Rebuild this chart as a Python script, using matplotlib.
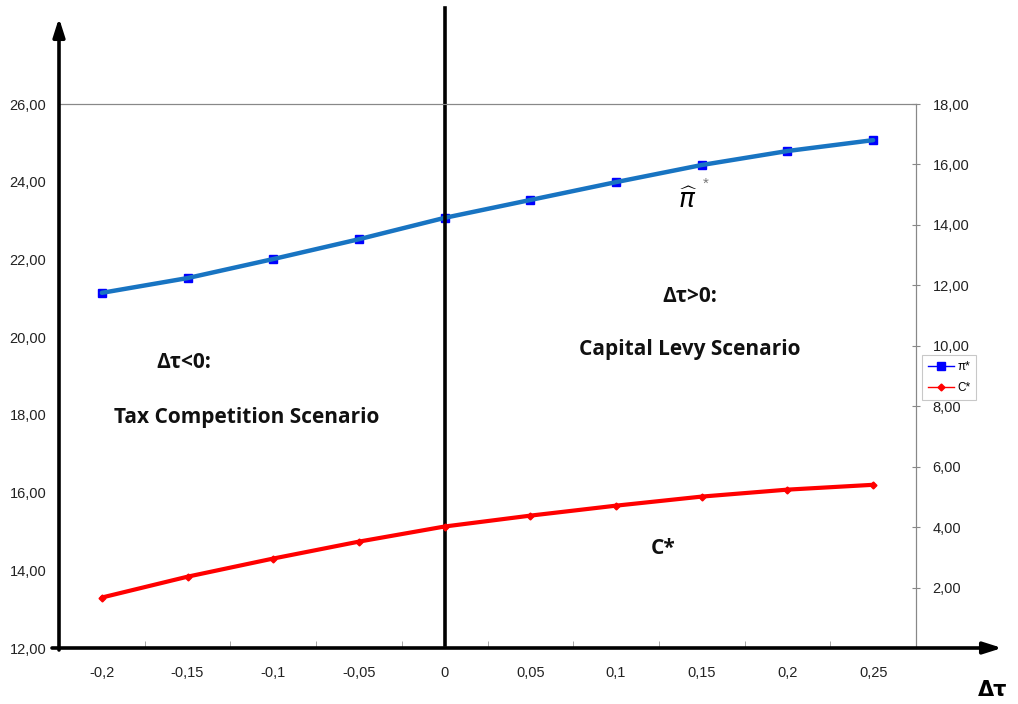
import numpy as np
from matplotlib import pyplot as plt
from matplotlib.ticker import FuncFormatter, FixedLocator

# data
dtau_labels = ["-0,2", "-0,15", "-0,1", "-0,05", "0", "0,05", "0,1", "0,15", "0,2", "0,25"]
pi_star = [21.14, 21.52, 22.01, 22.52, 23.07, 23.53, 23.99, 24.43, 24.79, 25.07]
c_star = [1.67, 2.36, 2.96, 3.52, 4.02, 4.38, 4.71, 5.01, 5.24, 5.40]

W, H = 1018, 704
def fx(px):
    return px / W
def fy(py):
    return 1 - py / H

plt.rcParams['font.family'] = ['Liberation Sans', 'DejaVu Sans']
fig = plt.figure(figsize=(W / 100, H / 100), dpi=100)

L, R, T, B = 59, 916, 104, 648
ax = fig.add_axes([fx(L), fy(B), fx(R - L), (B - T) / H])
ax2 = ax.twinx()

x = np.arange(len(dtau_labels))

# pi* : thin series with square markers, then thick overlay line
ax.plot(x, pi_star, color='#0000ff', lw=1, marker='s', ms=6, zorder=3)
ax.plot(x, pi_star, color='#1874c2', lw=3.2, zorder=4, solid_capstyle='round')
ax2.plot(x, c_star, color='#ff0000', lw=1, marker='D', ms=3.5, zorder=3)
ax2.plot(x, c_star, color='#ff0000', lw=3, zorder=4, solid_capstyle='round')

ax.set_xlim(-0.5, len(dtau_labels) - 0.5)
ax.set_ylim(12, 26)
ax2.set_ylim(0, 18)

comma = FuncFormatter(lambda v, p: ("%.2f" % v).replace('.', ','))
ax.set_yticks(np.arange(12, 27, 2))
ax.yaxis.set_major_formatter(comma)
ax.tick_params(axis='y', length=0, pad=9, labelsize=10.5, labelcolor='#222222')
ax2.set_yticks(np.arange(2, 19, 2))
ax2.yaxis.set_major_formatter(comma)
ax2.tick_params(axis='y', direction='inout', length=6, width=0.8, color='#888888',
                pad=9, labelsize=10.5, labelcolor='#222222')

ax.set_xticks(x)
ax.set_xticklabels(dtau_labels)
ax.xaxis.set_minor_locator(FixedLocator(np.arange(0.5, len(dtau_labels) - 1, 1)))
ax.tick_params(axis='x', which='major', length=0, pad=13, labelsize=10.5, labelcolor='#222222')
ax.tick_params(axis='x', which='minor', direction='in', length=5, color='#999999')

for a in (ax, ax2):
    a.spines['left'].set_visible(False)
    a.spines['bottom'].set_visible(False)
    a.spines['top'].set_color('#888888')
    a.spines['right'].set_color('#888888')
    a.spines['top'].set_linewidth(0.8)
    a.spines['right'].set_linewidth(0.8)
    a.patch.set_visible(False)

# vertical separator at dtau = 0
ax.axvline(4, ymin=(B - 645) / (B - T), ymax=(B - 8) / (B - T), color='black', lw=2.6,
           clip_on=False, zorder=5)

# axis arrows
arrow = dict(arrowstyle='-|>,head_length=1.1,head_width=0.35', color='black', lw=2.6,
             shrinkA=0, shrinkB=0)
fig.add_artist(plt.Annotation('', xy=(fx(59), fy(18)), xytext=(fx(59), fy(650)),
                              xycoords='figure fraction', arrowprops=arrow))
fig.add_artist(plt.Annotation('', xy=(fx(1002), fy(648)), xytext=(fx(52), fy(648)),
                              xycoords='figure fraction', arrowprops=arrow))

# annotations
bold = dict(fontweight='bold', fontsize=15, ha='center', va='center',
            family=['Open Sans', 'DejaVu Sans'], color='#111111')
fig.text(fx(184), fy(362), "Δτ<0:", **bold)
fig.text(fx(247), fy(418), "Tax Competition Scenario", **bold)
fig.text(fx(690), fy(296), "Δτ>0:", **bold)
fig.text(fx(690), fy(349), "Capital Levy Scenario", **bold)
fig.text(fx(663), fy(548), "C*", **bold)
fig.text(fx(993), fy(690), "Δτ", fontweight='bold', fontsize=15, ha='center', va='center',
         family=['DejaVu Sans'])
fig.text(fx(688), fy(200), r"$\widehat{\pi}$", fontsize=19, ha='center', va='center')
fig.text(fx(706), fy(184), "*", fontsize=11, ha='center', va='center', color='#777777')

# legend
h1, = ax.plot([], [], color='#0000ff', lw=1, marker='s', ms=6)
h2, = ax.plot([], [], color='#ff0000', lw=1, marker='D', ms=3.5)
leg = fig.legend([h1, h2], ["π*", "C*"], loc='upper left',
                 bbox_to_anchor=(fx(922), fy(355)), fontsize=8.5, frameon=True,
                 fancybox=False, edgecolor='#bbbbbb', handlelength=2.2,
                 borderpad=0.5, labelspacing=0.8, handletextpad=0.3, borderaxespad=0)
leg.get_frame().set_linewidth(0.8)

fig.savefig('out.png', dpi=100)
